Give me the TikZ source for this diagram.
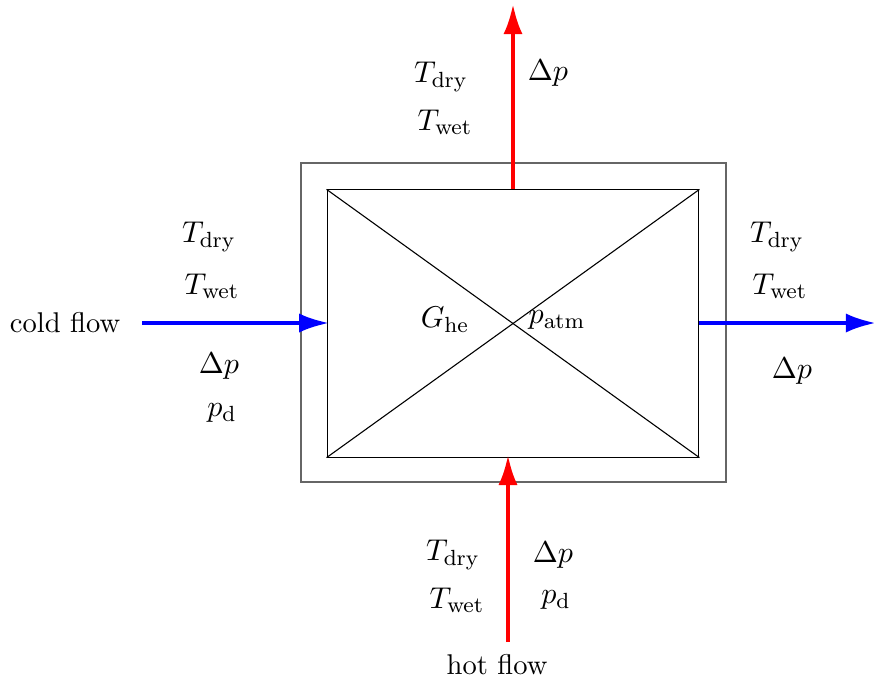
\documentclass[tikz,border=0pt]{standalone}
\usepackage{amsmath}
\usetikzlibrary{arrows.meta}
\tikzset{
  hotflow/.style={draw=red, line width=1.5pt, -{Latex[length=11pt, width=7pt]}},
  coldflow/.style={draw=blue, line width=1.5pt, -{Latex[length=11pt, width=7pt]}},
  label/.style={inner sep=0pt, anchor=center, font=\fontsize{10.4}{12.5}\selectfont},
  varlabel/.style={inner sep=0pt, anchor=center, font=\fontsize{11}{13}\selectfont}
}
\begin{document}
\begin{tikzpicture}[x=0.0128cm, y=-0.0128cm]
        	% Frame and heat exchanger core:
        	\useasboundingbox (0, 0) rectangle (874, 679);
        	\node[shape=rectangle, draw=black!60, line width=0.5pt, minimum width=5.44cm, minimum height=4.08cm, inner sep=0pt](housing) at (513.5, 322.5){};
        	\node[shape=rectangle, draw, line width=0.4pt, minimum width=4.76cm, minimum height=3.42cm, inner sep=0pt](core) at (513, 323.5){};
        	\draw[line width=0.4pt] (core.north west) -- (core.south east);
        	\draw[line width=0.4pt] (core.north east) -- (core.south west);
        	% Flows:
        	\coordinate (C1) at (142, 323);
        	\coordinate (C2) at (876, 323);
        	\coordinate (H1) at (508, 642);
        	\coordinate (H2) at (513, 4);
        	\draw[coldflow] (C1) -- ([xshift=1pt]C1 -| core.west);
        	\draw[coldflow] (core.east |- C2) -- (C2);
        	\draw[hotflow] (H1) -- ([yshift=1pt]H1 |- core.south);
        	\draw[hotflow] (H2 |- core.north) -- (H2);
        	% Labels:
        	\node[label](N1) at (65, 323){cold flow};
        	\node[label](N2) at (497, 665){hot flow};
        	\node[varlabel](N3) at (445, 320){$G_{\mathrm{he}}$};
        	\node[varlabel](N4) at (557, 320){$p_{\mathrm{atm}}$};
        	\node[varlabel](N5) at (209, 237){$T_{\mathrm{dry}}$};
        	\node[varlabel](N6) at (212, 286){$T_{\mathrm{wet}}$};
        	\node[varlabel](N7) at (219, 366){$\Delta p$};
        	\node[varlabel](N8) at (222, 413){$p_{\mathrm{d}}$};
        	\node[varlabel](N9) at (441, 77){$T_{\mathrm{dry}}$};
        	\node[varlabel](N10) at (445, 122){$T_{\mathrm{wet}}$};
        	\node[varlabel](N11) at (548, 73){$\Delta p$};
        	\node[varlabel](N12) at (777, 237){$T_{\mathrm{dry}}$};
        	\node[varlabel](N13) at (780, 286){$T_{\mathrm{wet}}$};
        	\node[varlabel](N14) at (792, 371){$\Delta p$};
        	\node[varlabel](N15) at (453, 555){$T_{\mathrm{dry}}$};
        	\node[varlabel](N16) at (457, 600){$T_{\mathrm{wet}}$};
        	\node[varlabel](N17) at (553, 555){$\Delta p$};
        	\node[varlabel](N18) at (556, 600){$p_{\mathrm{d}}$};
        \end{tikzpicture}
\end{document}
